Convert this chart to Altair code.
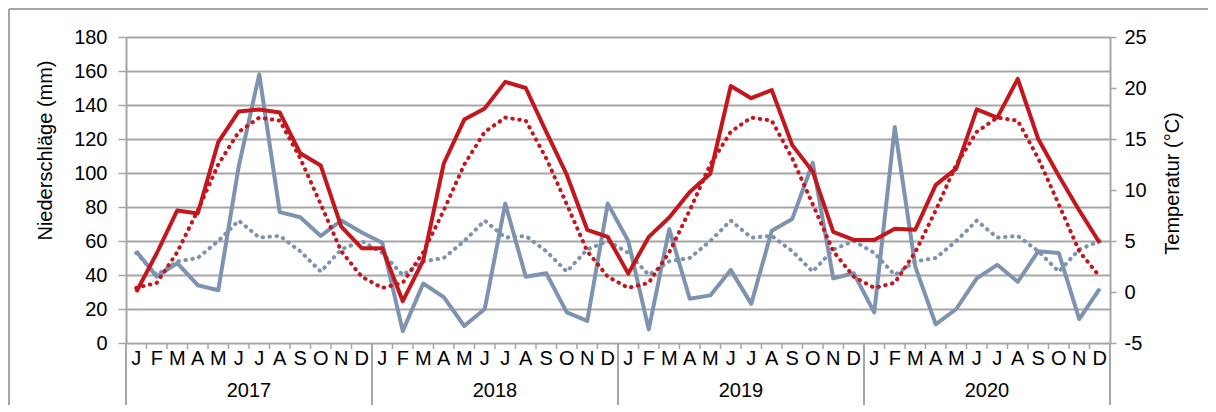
import altair as alt
import pandas as pd

years = ["2017", "2018", "2019", "2020"]
months = ["J", "F", "M", "A", "M", "J", "J", "A", "S", "O", "N", "D"]

precip_2017 = [54, 39, 47, 34, 31, 104, 158, 77, 74, 63, 72, 65]
precip_2018 = [59, 7, 35, 27, 10, 20, 82, 39, 41, 18, 13, 82]
precip_2019 = [60, 8, 67, 26, 28, 43, 23, 66, 73, 106, 38, 41]
precip_2020 = [18, 127, 45, 11, 20, 38, 46, 36, 54, 53, 14, 32]

temp_2017 = [0.0, 3.8, 8.0, 7.7, 14.7, 17.7, 17.9, 17.6, 13.6, 12.4, 6.4, 4.3]
temp_2018 = [4.3, -0.9, 3.1, 12.6, 16.9, 18.0, 20.6, 20.0, 15.7, 11.5, 6.1, 5.4]
temp_2019 = [1.8, 5.4, 7.3, 9.8, 11.6, 20.2, 19.0, 19.8, 14.4, 11.8, 5.9, 5.1]
temp_2020 = [5.1, 6.2, 6.1, 10.5, 12.1, 17.9, 17.1, 20.9, 15.0, 11.4, 8.0, 4.8]

precip_mean = [53, 40, 48, 50, 60, 72, 62, 63, 54, 42, 55, 60]
temp_mean = [0.4, 0.9, 3.9, 8.0, 12.5, 15.7, 17.1, 16.8, 13.1, 8.6, 4.0, 1.5]

RED = "#C3161D"
BLUE = "#7D93AF"
GRAY = "#A6A6A6"
FONT = "Liberation Sans"
FS = 20

W, H = 984, 306
PR = 98

n = len(years) * len(months)
df = pd.DataFrame({
    "pos": [i + 0.5 for i in range(n)],
    "month": months * len(years),
    "precip": precip_2017 + precip_2018 + precip_2019 + precip_2020,
    "temp": temp_2017 + temp_2018 + temp_2019 + temp_2020,
    "precip_mean": precip_mean * len(years),
    "temp_mean": temp_mean * len(years),
})
bounds = pd.DataFrame({"b": list(range(n + 1))})
ybounds = pd.DataFrame({"b": [i * 12 for i in range(len(years) + 1)]})
ydf = pd.DataFrame({"year": years, "c": [i * 12 + 6 for i in range(len(years))]})

xs = alt.Scale(domain=[0, n], nice=False, zero=False)
X = alt.X("pos:Q", scale=xs, axis=None)

left_axis = alt.Axis(
    values=list(range(0, 181, 20)), grid=True, gridColor=GRAY, gridWidth=2,
    domainColor=GRAY, domainWidth=2, tickColor=GRAY, tickWidth=1.5, tickSize=8,
    labelFont=FONT, labelFontSize=FS, labelColor="black", labelPadding=11,
    title="Niederschläge (mm)", titleFont=FONT, titleFontSize=FS,
    titleFontWeight="normal", titleColor="black",
    titleAngle=270, titleX=-75, titleY=113, titleAlign="center", titleBaseline="alphabetic",
)
right_axis = alt.Axis(
    orient="right", values=list(range(-5, 26, 5)), grid=False,
    domainColor=GRAY, domainWidth=2, tickColor=GRAY, tickWidth=1.5, tickSize=6,
    labelFont=FONT, labelFontSize=FS, labelColor="black", labelPadding=8,
    labelExpr="datum.value + ''",
    title="Temperatur (°C)", titleFont=FONT, titleFontSize=FS,
    titleFontWeight="normal", titleColor="black",
    titleAngle=270, titleX=68, titleY=146, titleAlign="center", titleBaseline="alphabetic",
)
YP = alt.Scale(domain=[0, 180], nice=False, zero=False)
YT = alt.Scale(domain=[-5, 25], nice=False, zero=False)

base = alt.Chart(df)
p_line = base.mark_line(color=BLUE, strokeWidth=4, strokeJoin="round").encode(
    x=X, y=alt.Y("precip:Q", scale=YP, axis=left_axis))
p_mean = base.mark_line(color=BLUE, strokeWidth=4, strokeDash=[0.5, 6.5], strokeCap="round").encode(
    x=X, y=alt.Y("precip_mean:Q", scale=YP, axis=left_axis))
t_line = base.mark_line(color=RED, strokeWidth=4, strokeJoin="round").encode(
    x=X, y=alt.Y("temp:Q", scale=YT, axis=right_axis))
t_mean = base.mark_line(color=RED, strokeWidth=4, strokeDash=[0.5, 6.5], strokeCap="round").encode(
    x=X, y=alt.Y("temp_mean:Q", scale=YT, axis=right_axis))

precip_layer = alt.layer(p_mean, p_line)
temp_layer = alt.layer(t_mean, t_line)

month_ticks = alt.Chart(bounds).mark_rule(color=GRAY, strokeWidth=1.5).encode(
    x=alt.X("b:Q", scale=xs, axis=None), y=alt.value(H), y2=alt.value(H + 6))
year_lines = alt.Chart(ybounds).mark_rule(color=GRAY, strokeWidth=2).encode(
    x=alt.X("b:Q", scale=xs, axis=None), y=alt.value(H), y2=alt.value(H + 62))
month_text = base.mark_text(font=FONT, fontSize=FS, color="black", baseline="alphabetic").encode(
    x=X, y=alt.value(H + 22), text="month:N")
year_text = alt.Chart(ydf).mark_text(font=FONT, fontSize=FS, color="black", baseline="alphabetic").encode(
    x=alt.X("c:Q", scale=xs, axis=None), y=alt.value(H + 54), text="year:N")
frame_top = alt.Chart(ydf).mark_rule(color=GRAY, strokeWidth=2).encode(
    x=alt.value(-117), x2=alt.value(W + PR), y=alt.value(-28))
frame_left = alt.Chart(ydf).mark_rule(color=GRAY, strokeWidth=2).encode(
    x=alt.value(-117), y=alt.value(-28), y2=alt.value(H + 62))

deco = alt.layer(month_ticks, year_lines, month_text, year_text, frame_top, frame_left)

chart = alt.layer(precip_layer, temp_layer, deco).resolve_scale(y="independent").properties(
    width=W, height=H,
    autosize=alt.AutoSizeParams(type="none"),
    padding={"left": 118, "top": 29, "right": PR, "bottom": 62},
).configure_view(strokeWidth=0)

chart.save("out.html", embed_options={"renderer": "svg", "actions": False})
